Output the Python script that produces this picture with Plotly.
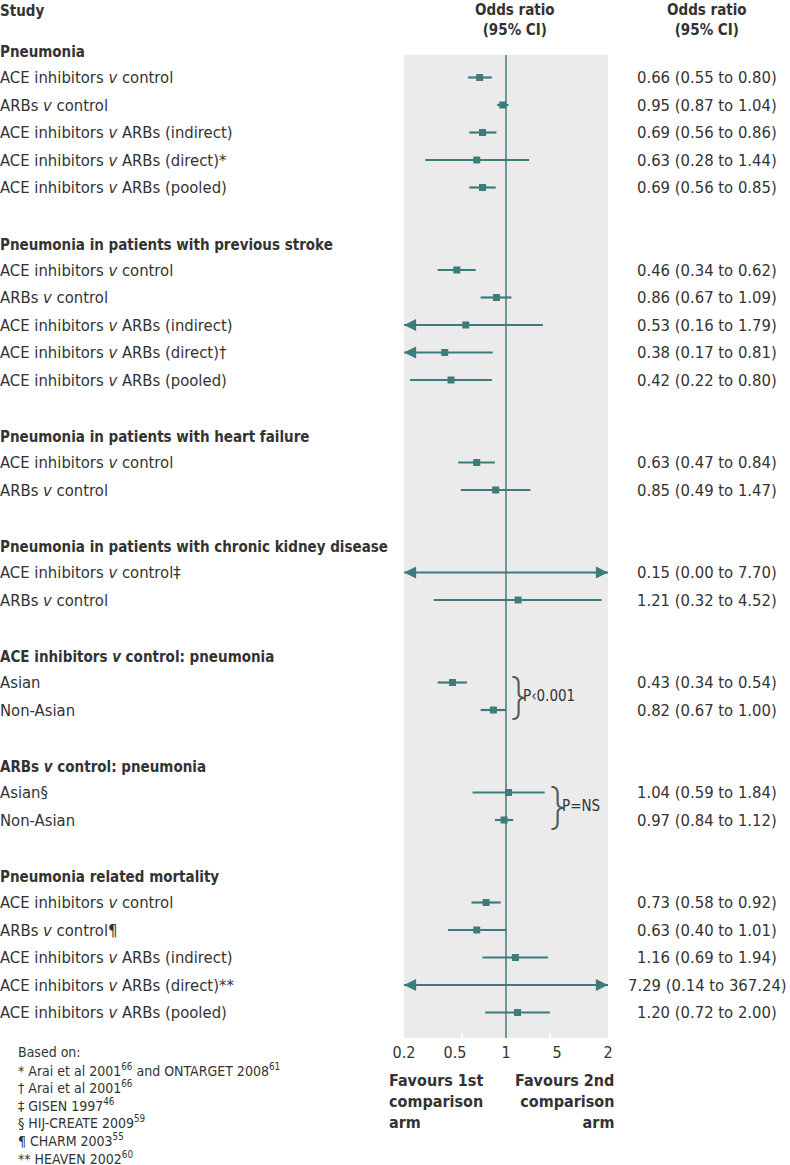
import math
import plotly.graph_objects as go

# ---------------- data ----------------
headings = [
    "Pneumonia",
    "Pneumonia in patients with previous stroke",
    "Pneumonia in patients with heart failure",
    "Pneumonia in patients with chronic kidney disease",
    "ACE inhibitors <i>v</i> control: pneumonia",
    "ARBs <i>v</i> control: pneumonia",
    "Pneumonia related mortality",
]
study_group = [0, 0, 0, 0, 0,
               1, 1, 1, 1, 1,
               2, 2,
               3, 3,
               4, 4,
               5, 5,
               6, 6, 6, 6, 6]
study_labels = [
    "ACE inhibitors <i>v</i> control",
    "ARBs <i>v</i> control",
    "ACE inhibitors <i>v</i> ARBs (indirect)",
    "ACE inhibitors <i>v</i> ARBs (direct)*",
    "ACE inhibitors <i>v</i> ARBs (pooled)",
    "ACE inhibitors <i>v</i> control",
    "ARBs <i>v</i> control",
    "ACE inhibitors <i>v</i> ARBs (indirect)",
    "ACE inhibitors <i>v</i> ARBs (direct)†",
    "ACE inhibitors <i>v</i> ARBs (pooled)",
    "ACE inhibitors <i>v</i> control",
    "ARBs <i>v</i> control",
    "ACE inhibitors <i>v</i> control‡",
    "ARBs <i>v</i> control",
    "Asian",
    "Non-Asian",
    "Asian§",
    "Non-Asian",
    "ACE inhibitors <i>v</i> control",
    "ARBs <i>v</i> control¶",
    "ACE inhibitors <i>v</i> ARBs (indirect)",
    "ACE inhibitors <i>v</i> ARBs (direct)**",
    "ACE inhibitors <i>v</i> ARBs (pooled)",
]
odds = [0.66, 0.95, 0.69, 0.63, 0.69,
        0.46, 0.86, 0.53, 0.38, 0.42,
        0.63, 0.85,
        0.15, 1.21,
        0.43, 0.82,
        1.04, 0.97,
        0.73, 0.63, 1.16, 7.29, 1.20]
ci_low = [0.55, 0.87, 0.56, 0.28, 0.56,
          0.34, 0.67, 0.16, 0.17, 0.22,
          0.47, 0.49,
          0.00, 0.32,
          0.34, 0.67,
          0.59, 0.84,
          0.58, 0.40, 0.69, 0.14, 0.72]
ci_high = [0.80, 1.04, 0.86, 1.44, 0.85,
           0.62, 1.09, 1.79, 0.81, 0.80,
           0.84, 1.47,
           7.70, 4.52,
           0.54, 1.00,
           1.84, 1.12,
           0.92, 1.01, 1.94, 367.24, 2.00]
ci_text = [
    "0.66 (0.55 to 0.80)", "0.95 (0.87 to 1.04)", "0.69 (0.56 to 0.86)",
    "0.63 (0.28 to 1.44)", "0.69 (0.56 to 0.85)",
    "0.46 (0.34 to 0.62)", "0.86 (0.67 to 1.09)", "0.53 (0.16 to 1.79)",
    "0.38 (0.17 to 0.81)", "0.42 (0.22 to 0.80)",
    "0.63 (0.47 to 0.84)", "0.85 (0.49 to 1.47)",
    "0.15 (0.00 to 7.70)", "1.21 (0.32 to 4.52)",
    "0.43 (0.34 to 0.54)", "0.82 (0.67 to 1.00)",
    "1.04 (0.59 to 1.84)", "0.97 (0.84 to 1.12)",
    "0.73 (0.58 to 0.92)", "0.63 (0.40 to 1.01)", "1.16 (0.69 to 1.94)",
    "7.29 (0.14 to 367.24)", "1.20 (0.72 to 2.00)",
]
p_groups = [4, 5]
p_texts = ["P‹0.001", "P=NS"]
x_min, x_max = 0.2, 5.0
tick_labels = ["0.2", "0.5", "1", "5", "2"]
minor_ticks = [0.5, 2]
footnotes = [
    "Based on:",
    "* Arai et al 2001<sup>66</sup> and ONTARGET 2008<sup>61</sup>",
    "† Arai et al 2001<sup>66</sup>",
    "‡ GISEN 1997<sup>46</sup>",
    "§ HIJ-CREATE 2009<sup>59</sup>",
    "¶ CHARM 2003<sup>55</sup>",
    "** HEAVEN 2002<sup>60</sup>",
]

# ---------------- styling ----------------
W, H = 790, 1165
TEAL = "#3c7d7b"
GREY = "#ebebeb"
TXT = "#333333"
FONT = "DejaVu Sans Condensed, Liberation Sans Narrow, Liberation Sans, sans-serif"
ROW_PX = 27.5
FIRST_PX = 50.0
GREY_TOP_PX = 55
GREY_BOT_PX = 1038

def idx_of_px(px):
    return (px - FIRST_PX) / ROW_PX

# row positions
head_rows = []
study_rows = []
r = 0
for g, _ in enumerate(headings):
    head_rows.append(r)
    r += 1
    for k, grp in enumerate(study_group):
        if grp == g:
            study_rows.append(r)
            r += 1
    r += 1

fig = go.Figure()

# reference line at OR = 1
fig.add_trace(go.Scatter(
    x=[1, 1], y=[idx_of_px(GREY_TOP_PX), idx_of_px(GREY_BOT_PX)],
    mode="lines", line=dict(color=TEAL, width=1.5), hoverinfo="skip"))

# CI lines
for i, y in enumerate(study_rows):
    lo = max(ci_low[i], x_min)
    hi = min(ci_high[i], x_max)
    fig.add_trace(go.Scatter(
        x=[lo, hi], y=[y, y], mode="lines",
        line=dict(color=TEAL, width=2.2), hoverinfo="skip"))
    if ci_low[i] < x_min:
        fig.add_annotation(x=math.log10(x_min), y=y, ax=math.log10(x_min) + 0.08, ay=y,
                           xref="x", yref="y", axref="x", ayref="y", text="",
                           showarrow=True, arrowhead=2, arrowsize=1.1, arrowwidth=2.2,
                           arrowcolor=TEAL, standoff=0, startstandoff=0)
    if ci_high[i] > x_max:
        fig.add_annotation(x=math.log10(x_max), y=y, ax=math.log10(x_max) - 0.08, ay=y,
                           xref="x", yref="y", axref="x", ayref="y", text="",
                           showarrow=True, arrowhead=2, arrowsize=1.1, arrowwidth=2.2,
                           arrowcolor=TEAL, standoff=0, startstandoff=0)

# point estimates
fig.add_trace(go.Scatter(
    x=odds, y=study_rows, mode="markers",
    marker=dict(symbol="square", size=7, color=TEAL),
    hoverinfo="skip", cliponaxis=True))

# grey panel
fig.add_shape(type="rect", xref="x domain", yref="y", x0=0, x1=1,
              y0=idx_of_px(GREY_TOP_PX), y1=idx_of_px(GREY_BOT_PX),
              fillcolor=GREY, line=dict(width=0), layer="below")

# text columns
def ann(text, x, y, xref="paper", yref="y", size=16, bold=False, xanchor="left",
        align="left", color=TXT, yanchor="middle", yshift=0):
    if bold:
        text = "<b>" + text + "</b>"
    fig.add_annotation(text=text, x=x, y=y, xref=xref, yref=yref, showarrow=False,
                       xanchor=xanchor, yanchor=yanchor, align=align,
                       borderpad=0, borderwidth=0, yshift=yshift,
                       font=dict(family=FONT, size=size, color=color))

for g, y in enumerate(head_rows):
    ann(headings[g], 0, y, bold=True, size=15, yshift=-2)
for i, y in enumerate(study_rows):
    ann(study_labels[i], 0, y, size=16.5)
    ann(ci_text[i], 707 / W, y, xanchor="center", align="center", size=16.5)

# column headers
ann("Study", 0, idx_of_px(11), bold=True, size=15)
ann("Odds ratio<br>(95% CI)", 515 / W, idx_of_px(20), bold=True, size=15,
    xanchor="center", align="center")
ann("Odds ratio<br>(95% CI)", 707 / W, idx_of_px(20), bold=True, size=15,
    xanchor="center", align="center")

# subgroup p values with braces
for gi, pt in zip(p_groups, p_texts):
    rows = [study_rows[k] for k, grp in enumerate(study_group) if grp == gi]
    ymid = sum(rows) / len(rows)
    his = [ci_high[k] for k, grp in enumerate(study_group) if grp == gi]
    xb = math.log10(max(his)) + 0.01
    fig.add_annotation(text="}", x=xb, y=ymid, xref="x", yref="y", showarrow=False,
                       xanchor="left", yanchor="middle", yshift=1,
                       font=dict(family="Inter", size=48, color="#555555", weight=200))
    fig.add_annotation(text=pt, x=xb, y=ymid, xref="x", yref="y", showarrow=False,
                       xanchor="left", yanchor="middle", xshift=14,
                       font=dict(family=FONT, size=15, color=TXT))

# footnotes
for k, line in enumerate(footnotes):
    ann(line, 18 / W, 1 - (1052 + 17.6 * k) / H, yref="paper", size=14)

# favours labels
ann("Favours 1st<br>comparison<br>arm", 389 / W, 1 - 1071 / H, yref="paper", size=16,
    bold=True, yanchor="top")
ann("Favours 2nd<br>comparison<br>arm", 614 / W, 1 - 1071 / H, yref="paper", size=16,
    bold=True, yanchor="top", xanchor="right", align="right")

# geometric spacing of tick label positions across the axis
n = len(tick_labels)
tick_vals = [x_min * (x_max / x_min) ** (k / (n - 1)) for k in range(n)]

fig.update_layout(
    width=W, height=H,
    margin=dict(l=0, r=0, t=0, b=0, pad=0, autoexpand=False),
    paper_bgcolor="white", plot_bgcolor="white",
    showlegend=False,
    font=dict(family=FONT, color=TXT),
    xaxis=dict(
        type="log", range=[math.log10(x_min), math.log10(x_max)],
        domain=[404 / W, 608 / W], automargin=False,
        tickvals=tick_vals, ticktext=tick_labels, ticks="",
        ticklabelstandoff=3,
        tickfont=dict(family=FONT, size=16, color=TXT),
        showgrid=False, zeroline=False, showline=False,
        minor=dict(tickvals=minor_ticks, ticks="inside", ticklen=5,
                   tickwidth=2, tickcolor="white", showgrid=False),
        fixedrange=True,
    ),
    yaxis=dict(
        range=[idx_of_px(GREY_BOT_PX), idx_of_px(0)],
        domain=[1 - GREY_BOT_PX / H, 1], automargin=False,
        showgrid=False, zeroline=False, showline=False,
        showticklabels=False, ticks="", fixedrange=True,
    ),
)

fig.write_html("out.html", config={"displayModeBar": False},
               post_script="document.body.style.margin='0';")
